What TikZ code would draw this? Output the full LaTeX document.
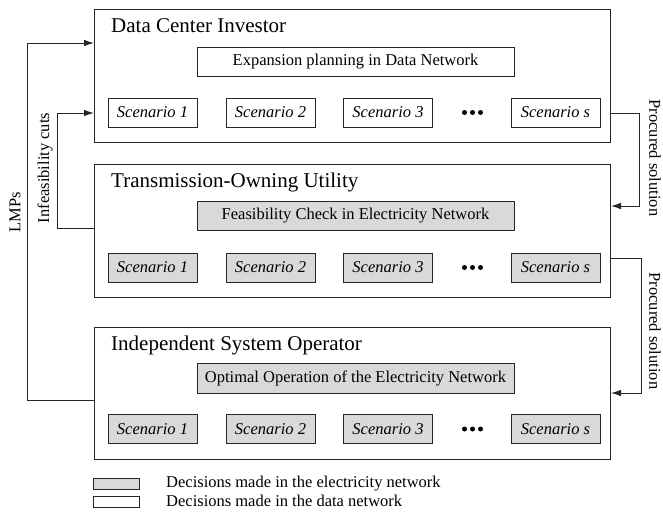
\documentclass[tikz,border=0pt]{standalone}
\usepackage{fontspec}
\setmainfont{Liberation Serif}
\usetikzlibrary{arrows.meta}
\tikzset{
  outerbox/.style={draw=black!85, line width=1pt, fill=white},
  whitebox/.style={draw=black!85, line width=0.9pt, fill=white},
  graybox/.style={draw=black!85, line width=0.9pt, fill=gray!30},
  titletxt/.style={font=\fontsize{21}{24}\selectfont, inner sep=0pt, anchor=base west},
  normtxt/.style={font=\fontsize{16.5}{19}\selectfont, inner sep=0pt},
  scentxt/.style={font=\fontsize{16.5}{19}\selectfont\itshape, inner sep=0pt},
  conn/.style={draw=black!85, line width=0.9pt},
  arr/.style={conn, -{Latex[length=10pt,width=6.5pt]}},
}
\begin{document}
\begin{tikzpicture}[x=1pt,y=-1pt]
\useasboundingbox (0,0) rectangle (663,514);

% ---------- outer boxes ----------
\node[outerbox, minimum width=516pt, minimum height=133pt, inner sep=0pt, anchor=north west] (dci) at (94,9) {};
\node[outerbox, minimum width=516pt, minimum height=133pt, inner sep=0pt, anchor=north west] (tou) at (94,164) {};
\node[outerbox, minimum width=516pt, minimum height=132pt, inner sep=0pt, anchor=north west] (iso) at (94,327) {};

% titles
\node[titletxt] (t1) at (111,32.5) {Data Center Investor};
\node[titletxt] (t2) at (111,187) {Transmission-Owning Utility};
\node[titletxt] (t3) at (111,350) {Independent System Operator};

% ---------- wide inner boxes ----------
\node[whitebox, normtxt, minimum width=317pt, minimum height=29pt] (exp) at (355.5,61.5) {Expansion planning in Data Network};
\node[graybox, normtxt, minimum width=317pt, minimum height=29pt] (feas) at (355.5,215.5) {Feasibility Check in Electricity Network};
\node[graybox, normtxt, minimum width=317pt, minimum height=30pt] (opt) at (355.5,378) {Optimal Operation of the Electricity Network};

% ---------- scenario boxes ----------
\foreach \r/\y/\st in {a/112.5/whitebox, b/267.5/graybox, c/429/graybox}{
  \node[\st, scentxt, minimum width=89pt, minimum height=29pt] (\r1) at (152.5,\y) {Scenario 1};
  \node[\st, scentxt, minimum width=89pt, minimum height=29pt] (\r2) at (270.5,\y) {Scenario 2};
  \node[\st, scentxt, minimum width=89pt, minimum height=29pt] (\r3) at (388,\y) {Scenario 3};
  \node[\st, scentxt, minimum width=89pt, minimum height=29pt] (\r4) at (555.5,\y) {Scenario s};
  \node[inner sep=0pt, minimum width=22pt, minimum height=6pt] (\r d) at (472.5,\y) {};
  \fill[black] (\r d.center) ++(-8,0) circle (2.5pt) ++(8,0) circle (2.5pt) ++(8,0) circle (2.5pt);
}

% ---------- connectors ----------
\coordinate (lmpA) at (27,400);
\coordinate (lmpB) at (27,43);
\draw[arr] (iso.west |- lmpA) -- (lmpA) -- (lmpB) -- (dci.west |- lmpB);

\coordinate (infA) at (57,228);
\coordinate (infB) at (57,113);
\draw[arr] (tou.west |- infA) -- (infA) -- (infB) -- (dci.west |- infB);

\coordinate (pA) at (639.5,113);
\coordinate (pB) at (639.5,206);
\draw[arr] (dci.east |- pA) -- (pA) -- (pB) -- (tou.east |- pB);

\coordinate (qA) at (641,258);
\coordinate (qB) at (641,393);
\draw[arr] (tou.east |- qA) -- (qA) -- (qB) -- (iso.east |- qB);

% connector labels
\node[normtxt, rotate=90] (lmpl) at (15,212) {LMPs};
\node[normtxt, rotate=90] (infl) at (45,168) {Infeasibility cuts};
\node[normtxt, rotate=-90] (p1l) at (655,158) {Procured solution};
\node[normtxt, rotate=-90] (p2l) at (655,331) {Procured solution};

% ---------- legend ----------
\node[graybox, minimum width=46pt, minimum height=11pt, inner sep=0pt] (lg1) at (116,483.5) {};
\node[whitebox, minimum width=46pt, minimum height=11pt, inner sep=0pt] (lg2) at (116,501.5) {};
\node[normtxt, anchor=west] (lt1) at (166,484) {Decisions made in the electricity network};
\node[normtxt, anchor=west] (lt2) at (166,501) {Decisions made in the data network};
\end{tikzpicture}
\end{document}
